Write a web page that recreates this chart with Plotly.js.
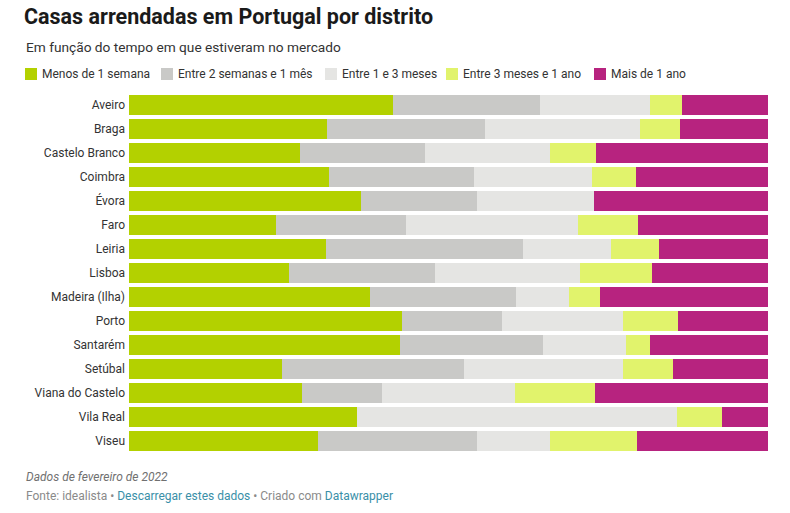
<!DOCTYPE html>
<html><head><meta charset="utf-8">
<script src="https://cdn.plot.ly/plotly-3.0.1.min.js"></script>
<style>html,body{margin:0;padding:0;background:#fff}</style>
</head><body><div id="chart" style="width:790px;height:513px"></div>
<script>
// ---- data (shares in %) ----
const districts = ["Aveiro","Braga","Castelo Branco","Coimbra","Évora","Faro","Leiria","Lisboa","Madeira (Ilha)","Porto","Santarém","Setúbal","Viana do Castelo","Vila Real","Viseu"];
const menos1Semana      = [41.4, 31.0, 26.8, 31.3, 36.3, 23.0, 30.8, 25.0, 37.7, 42.7, 42.5, 23.9, 27.1, 35.7, 29.6];
const entre2Semanas1Mes = [23.0, 24.7, 19.6, 22.7, 18.1, 20.3, 30.8, 22.9, 22.8, 15.6, 22.3, 28.5, 12.5,  0.0, 24.9];
const entre1e3Meses     = [17.2, 24.3, 19.6, 18.5, 18.4, 26.9, 13.9, 22.8,  8.3, 19.0, 13.0, 24.9, 20.8, 50.1, 11.4];
const entre3Meses1Ano   = [ 5.0,  6.3,  7.2,  6.8,  0.0,  9.5,  7.4, 11.2,  4.9,  8.6,  3.8,  7.8, 12.5,  7.0, 13.6];
const maisDe1Ano        = [13.5, 13.8, 26.9, 20.7, 27.2, 20.3, 17.1, 18.2, 26.3, 14.1, 18.5, 14.9, 27.1,  7.2, 20.5];
const seriesNames = ["Menos de 1 semana","Entre 2 semanas e 1 mês","Entre 1 e 3 meses","Entre 3 meses e 1 ano","Mais de 1 ano"];

// ---- styling ----
const seriesValues = [menos1Semana, entre2Semanas1Mes, entre1e3Meses, entre3Meses1Ano, maisDe1Ano];
const colors = ["#b3d100","#c9c9c7","#e5e5e3","#e1f36c","#b7237f"];
const W = 790, H = 513;
const M = {l:129, r:22, t:93, b:60};
const PW = W - M.l - M.r, PH = H - M.t - M.b;
const px = x => (x - M.l) / PW;
const py = y => 1 - (y - M.t) / PH;
const FONT = "Roboto, 'Noto Sans', Arial, sans-serif";

const traces = seriesNames.map((name, i) => ({
  type: "bar", orientation: "h", name: name,
  y: districts, x: seriesValues[i],
  marker: {color: colors[i], line: {width: 0}},
  hoverinfo: "none", showlegend: false
}));

// manual legend (Datawrapper style)
const legendX = [25, 161, 325, 446, 594];
const shapes = [];
const annotations = [];
seriesNames.forEach((name, i) => {
  shapes.push({type: "rect", xref: "paper", yref: "paper",
    x0: px(legendX[i]), x1: px(legendX[i] + 12), y0: py(80), y1: py(68),
    fillcolor: colors[i], line: {width: 0}});
  annotations.push({xref: "paper", yref: "paper", x: px(legendX[i] + 15), y: py(74),
    xanchor: "left", yanchor: "middle", showarrow: false, text: name,
    font: {family: FONT, size: 12, color: "#333"}});
});

annotations.push({xref: "paper", yref: "paper", x: px(24), y: py(47), xanchor: "left", yanchor: "middle",
  showarrow: false, text: "Em função do tempo em que estiveram no mercado",
  font: {family: FONT, size: 13.7, color: "#333"}});
annotations.push({xref: "paper", yref: "paper", x: px(24), y: py(477), xanchor: "left", yanchor: "middle",
  showarrow: false, text: "<i>Dados de fevereiro de 2022</i>",
  font: {family: FONT, size: 12, color: "#707070"}});
annotations.push({xref: "paper", yref: "paper", x: px(24), y: py(496), xanchor: "left", yanchor: "middle",
  showarrow: false,
  text: "Fonte: idealista • <span style='color:#3a8fa8'>Descarregar estes dados</span> • Criado com <span style='color:#3a8fa8'>Datawrapper</span>",
  font: {family: FONT, size: 12, color: "#8a8a8a"}});

const layout = {
  width: W, height: H,
  margin: M,
  paper_bgcolor: "#fff", plot_bgcolor: "#fff",
  title: {text: "<b>Casas arrendadas em Portugal por distrito</b>", x: 24 / W, xanchor: "left",
    xref: "container", yref: "container", y: 1 - 16 / H, yanchor: "middle",
    font: {family: FONT, size: 21.5, color: "#1a1a1a"}},
  barmode: "stack", barnorm: "percent", bargap: 0.1667,
  xaxis: {visible: false, range: [0, 100], fixedrange: true},
  yaxis: {type: "category", autorange: "reversed", showgrid: false, showline: false, zeroline: false,
    ticks: "", ticklabelstandoff: 3, tickfont: {family: FONT, size: 12, color: "#333"}, fixedrange: true},
  shapes: shapes, annotations: annotations,
  showlegend: false
};

Plotly.newPlot("chart", traces, layout, {displayModeBar: false, staticPlot: true});
</script></body></html>
